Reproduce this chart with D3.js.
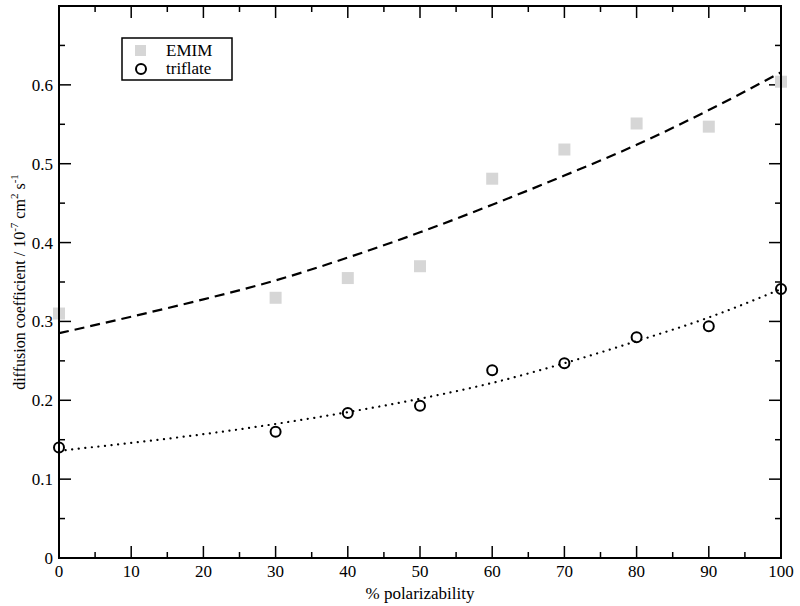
<!DOCTYPE html>
<html>
<head>
<meta charset="utf-8">
<script src="https://cdn.jsdelivr.net/npm/d3@7"></script>
<style>
  body { margin: 0; background: #fff; }
  text { font-family: "Liberation Serif", "DejaVu Serif", serif; }
</style>
</head>
<body>
<div id="chart"></div>
<script>
var width = 800,
    height = 606;

var margin = {top: 6, right: 19, bottom: 48, left: 59};

// data
const polar = [0, 30, 40, 50, 60, 70, 80, 90, 100];
const emim = [0.31, 0.33, 0.355, 0.37, 0.481, 0.518, 0.551, 0.547, 0.604];
const triflate = [0.14, 0.16, 0.184, 0.193, 0.238, 0.247, 0.28, 0.294, 0.341];

// fitted curves, sampled every 10%
const fitX = [0, 10, 20, 30, 40, 50, 60, 70, 80, 90, 100];
const emimFit = [0.285, 0.306, 0.328, 0.352, 0.381, 0.413, 0.448, 0.485, 0.524, 0.568, 0.616];
const triflateFit = [0.136, 0.146, 0.157, 0.170, 0.185, 0.202, 0.222, 0.247, 0.275, 0.305, 0.341];

const xTicks = [0, 10, 20, 30, 40, 50, 60, 70, 80, 90, 100];
const yTicks = [0, 0.1, 0.2, 0.3, 0.4, 0.5, 0.6];

var x = d3.scaleLinear().domain([0, 100]).range([margin.left, width - margin.right]);
var y = d3.scaleLinear().domain([0, 0.7]).range([height - margin.bottom, margin.top]);

var svg = d3.select("#chart").append("svg")
    .attr("width", width)
    .attr("height", height);

var x0 = x.range()[0], x1 = x.range()[1],
    y0 = y.range()[0], y1 = y.range()[1];

// ticks (all pointing inward, mirrored on top and right)
var xMinor = d3.range(5, 100, 10);
var yMinor = d3.range(0.05, 0.7, 0.1);

var ticks = svg.append("g").attr("stroke", "#000").attr("stroke-width", 1.5);

function xTick(v, len) {
    ticks.append("line").attr("x1", x(v)).attr("x2", x(v)).attr("y1", y0).attr("y2", y0 - len);
    ticks.append("line").attr("x1", x(v)).attr("x2", x(v)).attr("y1", y1).attr("y2", y1 + len);
}
function yTick(v, len) {
    ticks.append("line").attr("y1", y(v)).attr("y2", y(v)).attr("x1", x0).attr("x2", x0 + len);
    ticks.append("line").attr("y1", y(v)).attr("y2", y(v)).attr("x1", x1).attr("x2", x1 - len);
}
xTicks.forEach(d => xTick(d, 12));
xMinor.forEach(d => xTick(d, 6));
yTicks.forEach(d => yTick(d, 12));
yMinor.forEach(d => yTick(d, 6));

// tick labels
svg.append("g").selectAll("text")
    .data(xTicks)
    .join("text")
    .attr("x", d => x(d))
    .attr("y", y0 + 19)
    .attr("text-anchor", "middle")
    .attr("font-size", "17px")
    .text(d => d);

svg.append("g").selectAll("text")
    .data(yTicks)
    .join("text")
    .attr("x", x0 - 6)
    .attr("y", d => y(d) + 6)
    .attr("text-anchor", "end")
    .attr("font-size", "17px")
    .text(d => d === 0 ? "0" : d3.format(".1f")(d));

// fit lines
var line = d3.line()
    .x(d => x(d[0]))
    .y(d => y(d[1]))
    .curve(d3.curveMonotoneX);

svg.append("path")
    .datum(fitX.map((d, i) => [d, emimFit[i]]))
    .attr("d", line)
    .attr("fill", "none")
    .attr("stroke", "#000")
    .attr("stroke-width", 2.2)
    .attr("stroke-dasharray", "10,6");

svg.append("path")
    .datum(fitX.map((d, i) => [d, triflateFit[i]]))
    .attr("d", line)
    .attr("fill", "none")
    .attr("stroke", "#000")
    .attr("stroke-width", 2.2)
    .attr("stroke-linecap", "round")
    .attr("stroke-dasharray", "0.1,6.5");

// EMIM squares
svg.append("g").selectAll("rect")
    .data(polar.map((d, i) => [d, emim[i]]))
    .join("rect")
    .attr("x", d => x(d[0]) - 6)
    .attr("y", d => y(d[1]) - 6)
    .attr("width", 12)
    .attr("height", 12)
    .attr("fill", "#d6d6d6");

// triflate circles
svg.append("g").selectAll("circle")
    .data(polar.map((d, i) => [d, triflate[i]]))
    .join("circle")
    .attr("cx", d => x(d[0]))
    .attr("cy", d => y(d[1]))
    .attr("r", 5)
    .attr("fill", "none")
    .attr("stroke", "#000")
    .attr("stroke-width", 2);

// frame
svg.append("rect")
    .attr("x", x0)
    .attr("y", y1)
    .attr("width", x1 - x0)
    .attr("height", y0 - y1)
    .attr("fill", "none")
    .attr("stroke", "#000")
    .attr("stroke-width", 2);

// legend
var legend = svg.append("g").attr("transform", "translate(122,38)");
legend.append("rect")
    .attr("width", 110)
    .attr("height", 42)
    .attr("fill", "#fff")
    .attr("stroke", "#000")
    .attr("stroke-width", 1.5);
legend.append("rect")
    .attr("x", 13).attr("y", 7)
    .attr("width", 11).attr("height", 11)
    .attr("fill", "#d6d6d6");
legend.append("circle")
    .attr("cx", 19).attr("cy", 31).attr("r", 5)
    .attr("fill", "none").attr("stroke", "#000").attr("stroke-width", 2);
legend.append("text").attr("x", 44).attr("y", 18).attr("font-size", "17px").text("EMIM");
legend.append("text").attr("x", 44).attr("y", 36).attr("font-size", "17px").text("triflate");

// axis titles
svg.append("text")
    .attr("x", (x0 + x1) / 2)
    .attr("y", 599)
    .attr("text-anchor", "middle")
    .attr("font-size", "17px")
    .text("% polarizability");

var yl = svg.append("text")
    .attr("transform", "translate(25," + ((y0 + y1) / 2) + ") rotate(-90)")
    .attr("text-anchor", "middle")
    .attr("font-size", "16px");
yl.append("tspan").text("diffusion coefficient / 10");
yl.append("tspan").attr("dy", -7).attr("font-size", "11px").text("-7");
yl.append("tspan").attr("dy", 7).text(" cm");
yl.append("tspan").attr("dy", -7).attr("font-size", "11px").text("2");
yl.append("tspan").attr("dy", 7).text(" s");
yl.append("tspan").attr("dy", -7).attr("font-size", "11px").text("-1");
</script>
</body>
</html>
